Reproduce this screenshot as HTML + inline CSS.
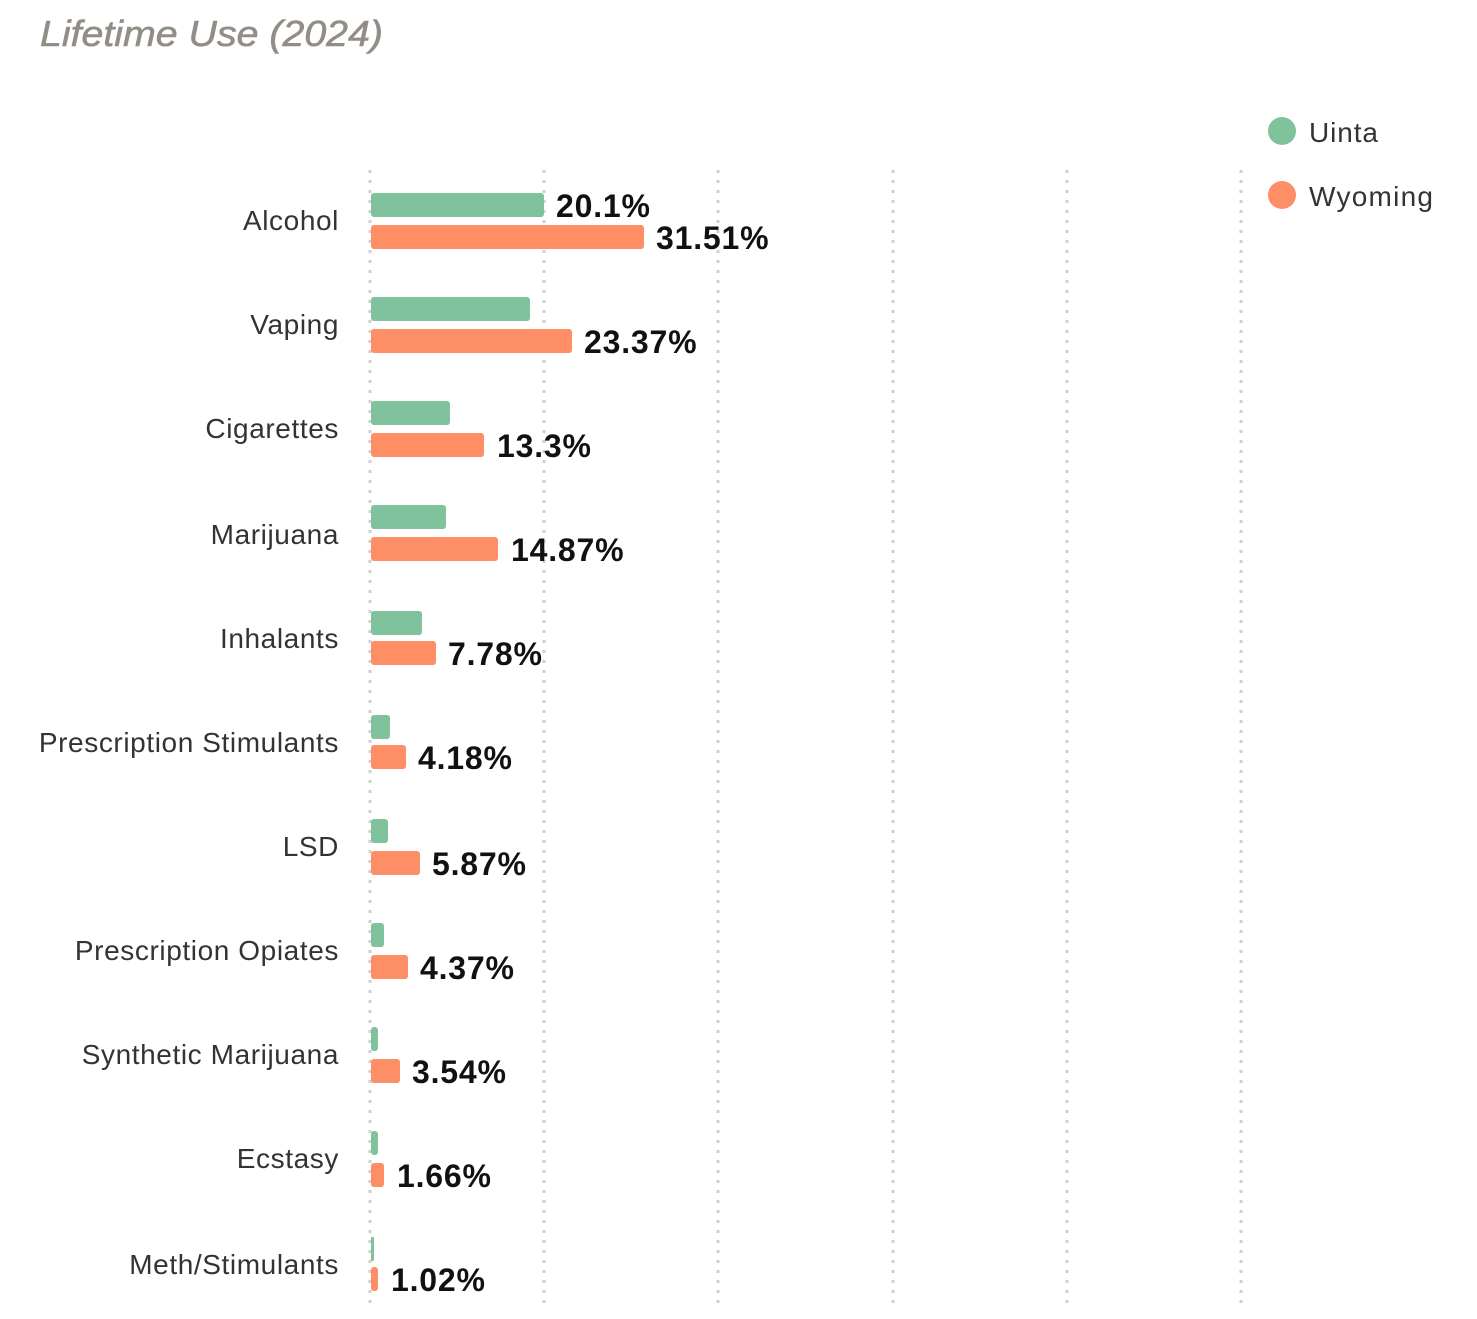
<!DOCTYPE html>
<html><head><meta charset="utf-8"><style>
html,body{margin:0;padding:0;background:#fff;}
svg{display:block;font-family:"Liberation Sans",sans-serif;}
</style></head><body>
<svg width="1477" height="1319" viewBox="0 0 1477 1319" xmlns="http://www.w3.org/2000/svg">
<text x="40" y="46" font-size="36" font-style="italic" fill="#938d87" stroke="#938d87" stroke-width="0.6" textLength="343" lengthAdjust="spacingAndGlyphs">Lifetime Use (2024)</text>
<g stroke="#cfcfcf" stroke-width="3" stroke-dasharray="3,7">
<line x1="370" y1="170" x2="370" y2="1310"/>
<line x1="544" y1="170" x2="544" y2="1310"/>
<line x1="718" y1="170" x2="718" y2="1310"/>
<line x1="893" y1="170" x2="893" y2="1310"/>
<line x1="1067" y1="170" x2="1067" y2="1310"/>
<line x1="1241" y1="170" x2="1241" y2="1310"/>
</g>
<circle cx="1282" cy="131" r="14" fill="#7fc29b"/>
<circle cx="1282" cy="195" r="14" fill="#fe8e65"/>
<g font-size="28" fill="#333">
<text x="1309" y="142" textLength="69">Uinta</text>
<text x="1309" y="206" textLength="124">Wyoming</text>
</g>
<g font-size="28" fill="#333" text-anchor="end" letter-spacing="0.6">
<text x="339" y="230">Alcohol</text>
<text x="339" y="334">Vaping</text>
<text x="339" y="438">Cigarettes</text>
<text x="339" y="544">Marijuana</text>
<text x="339" y="648">Inhalants</text>
<text x="339" y="752">Prescription Stimulants</text>
<text x="339" y="856">LSD</text>
<text x="339" y="960">Prescription Opiates</text>
<text x="339" y="1064">Synthetic Marijuana</text>
<text x="339" y="1168">Ecstasy</text>
<text x="339" y="1274">Meth/Stimulants</text>
</g>
<g fill="#7fc29b">
<rect x="371" y="193" width="173" height="24" rx="3"/>
<rect x="371" y="297" width="159" height="24" rx="3"/>
<rect x="371" y="401" width="79" height="24" rx="3"/>
<rect x="371" y="505" width="75" height="24" rx="3"/>
<rect x="371" y="611" width="51" height="24" rx="3"/>
<rect x="371" y="715" width="19" height="24" rx="3"/>
<rect x="371" y="819" width="17" height="24" rx="3"/>
<rect x="371" y="923" width="13" height="24" rx="3"/>
<rect x="371" y="1027" width="7" height="24" rx="3"/>
<rect x="371" y="1131" width="7" height="24" rx="3"/>
<rect x="371" y="1237" width="3" height="24" rx="1"/>
</g>
<g fill="#fe8e65">
<rect x="371" y="225" width="273" height="24" rx="3"/>
<rect x="371" y="329" width="201" height="24" rx="3"/>
<rect x="371" y="433" width="113" height="24" rx="3"/>
<rect x="371" y="537" width="127" height="24" rx="3"/>
<rect x="371" y="641" width="65" height="24" rx="3"/>
<rect x="371" y="745" width="35" height="24" rx="3"/>
<rect x="371" y="851" width="49" height="24" rx="3"/>
<rect x="371" y="955" width="37" height="24" rx="3"/>
<rect x="371" y="1059" width="29" height="24" rx="3"/>
<rect x="371" y="1163" width="13" height="24" rx="3"/>
<rect x="371" y="1267" width="7" height="24" rx="3"/>
</g>
<g font-size="32" font-weight="bold" fill="#111" letter-spacing="0.8">
<text x="556" y="217">20.1%</text>
<text x="656" y="249">31.51%</text>
<text x="584" y="353">23.37%</text>
<text x="497" y="457">13.3%</text>
<text x="511" y="561">14.87%</text>
<text x="448" y="665">7.78%</text>
<text x="418" y="769">4.18%</text>
<text x="432" y="875">5.87%</text>
<text x="420" y="979">4.37%</text>
<text x="412" y="1083">3.54%</text>
<text x="397" y="1187">1.66%</text>
<text x="391" y="1291">1.02%</text>
</g>
</svg>
</body></html>
